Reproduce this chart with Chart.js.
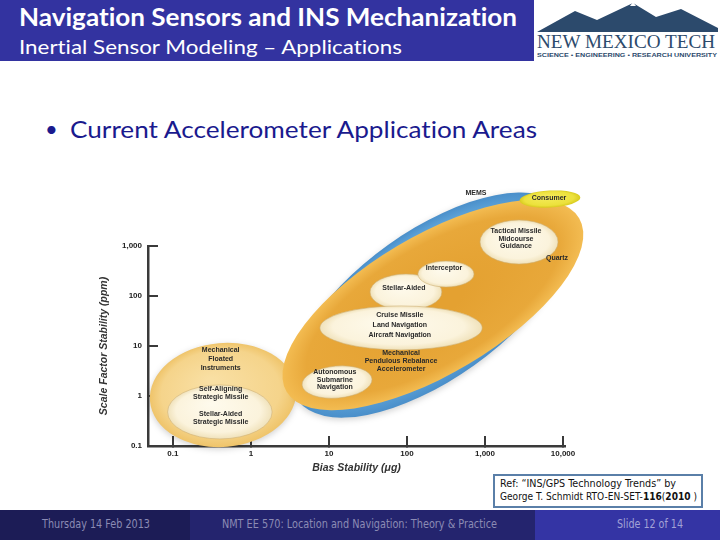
<!DOCTYPE html>
<html>
<head>
<meta charset="utf-8">
<script src="https://cdn.jsdelivr.net/npm/chart.js@4.4.1/dist/chart.umd.min.js"></script>
<style>
    body { margin: 0; width: 720px; height: 540px; position: relative; overflow: hidden; background: #fff; font-family: Lato, sans-serif; font-variant-ligatures: none; }
    .abs { position: absolute; white-space: nowrap; line-height: 1; transform-origin: 0 50%; }
    #header { position: absolute; left: 0; top: 0; width: 534px; height: 61px; background: #3333a0; }
    #logo { position: absolute; left: 535px; top: 0; width: 185px; height: 62px; background: #fff; }
    #chartBox { position: absolute; left: 90px; top: 150px; width: 530px; height: 330px; }
    #ref { position: absolute; left: 493px; top: 474px; width: 206px; height: 30px; border: 2px solid #5a7fa8; background: #fff; }
    .foot { position: absolute; top: 510px; height: 30px; }
    .footText { font-family: "Liberation Sans Narrow", "DejaVu Sans Condensed", sans-serif; font-size: 12px; top: 518px; }
</style>
</head>
<body>
<div id="header"></div>
<span class="abs" id="title" style="left:19px;top:5px;font-size:24px;font-weight:bold;color:#fff;">Navigation Sensors and INS Mechanization</span>
<span class="abs" id="subtitle" style="left:19px;top:37px;font-size:19px;color:#fff;">Inertial Sensor Modeling – Applications</span>

<div id="logo">
    <svg width="185" height="34" style="position:absolute;left:0;top:0;">
        <polygon points="2,32 40,11 62,20 98,3 121,17 146,9 183,28 183,32" fill="#2c4a6c"/>
        <polygon points="95,6 98,2 101,6" fill="#fff"/>
    </svg>
</div>
<span class="abs" id="logoName" style="left:537px;top:32px;font-family:'Liberation Serif',serif;font-size:19px;color:#2c4a6c;">NEW MEXICO TECH</span>
<span class="abs" id="logoSub" style="left:537px;top:52px;font-family:'Liberation Sans',sans-serif;font-size:6px;font-weight:bold;color:#2c4a6c;">SCIENCE • ENGINEERING • RESEARCH UNIVERSITY</span>

<span class="abs" style="left:45px;top:118px;font-size:22px;color:#1a1a8e;">•</span>
<span class="abs" id="bullet" style="left:70px;top:117px;font-size:24px;color:#1a1a8e;">Current Accelerometer Application Areas</span>

<div id="chartBox"><canvas id="chart"></canvas></div>

<div id="ref"></div>
<span class="abs" id="ref1" style="left:500px;top:479px;font-family:'Liberation Sans Narrow','DejaVu Sans Condensed',sans-serif;font-size:10px;color:#111;">Ref: “INS/GPS Technology Trends” by</span>
<span class="abs" id="ref2" style="left:500px;top:492px;font-family:'Liberation Sans Narrow','DejaVu Sans Condensed',sans-serif;font-size:10px;color:#111;">George T. Schmidt RTO-EN-SET-<b>116</b>(<b>2010</b> )</span>

<div class="foot" style="left:0;width:190px;background:#1c1c56;"></div>
<div class="foot" style="left:190px;width:345px;background:#24246e;"></div>
<div class="foot" style="left:535px;width:185px;background:#3434a4;"></div>
<span class="abs footText" id="foot1" style="left:42px;color:#8b8bb4;">Thursday 14 Feb 2013</span>
<span class="abs footText" id="foot2" style="left:222px;color:#8b8bb4;">NMT EE 570: Location and Navigation: Theory &amp; Practice</span>
<span class="abs footText" id="foot3" style="left:617px;color:#a2a2d6;">Slide 12 of 14</span>

<script>
// axis ticks
const xTicks = [0.1, 1, 10, 100, 1000, 10000];
const xTickLabels = ['0.1', '1', '10', '100', '1,000', '10,000'];
const yTicks = [0.1, 1, 10, 100, 1000];
const yTickLabels = ['0.1', '1', '10', '100', '1,000'];

// application regions: centre (bias µg, scale factor ppm), half size in decades, tilt in degrees
const regionNames = ['Mechanical Floated', 'Strategic Missile', 'MEMS', 'Quartz', 'Consumer', 'Tactical Missile',
    'Stellar-Aided', 'Interceptor', 'Cruise Missile', 'Submarine'];
const regionBias = [0.44, 0.40, 205, 215, 6800, 2730, 97, 316, 84, 12.7];
const regionScale = [1.05, 0.48, 66, 66, 8700, 1200, 120, 275, 23, 1.9];
const regionBiasDecades = [0.94, 0.67, 2.1, 2.18, 0.39, 0.5, 0.46, 0.36, 1.04, 0.45];
const regionScaleDecades = [1.04, 0.54, 1.48, 1.38, 0.17, 0.44, 0.36, 0.26, 0.44, 0.32];
const regionTilt = [-5, 0, -35.5, -30.7, -3, 0, 0, 0, 0, -5];

// text inside the regions
const labelText = [['MEMS'], ['Consumer'], ['Tactical Missile', 'Midcourse', 'Guidance'], ['Quartz'], ['Interceptor'],
    ['Stellar-Aided'], ['Cruise Missile', 'Land Navigation', 'Aircraft Navigation'],
    ['Mechanical', 'Pendulous Rebalance', 'Accelerometer'], ['Autonomous', 'Submarine', 'Navigation'],
    ['Mechanical', 'Floated', 'Instruments'], ['Self-Aligning', 'Strategic Missile'], ['Stellar-Aided', 'Strategic Missile']];
const labelBias = [767, 6610, 2497, 8375, 298, 91.5, 81, 84, 11.9, 0.41, 0.41, 0.41];
const labelScale = [11480, 9120, 1380, 575, 363, 145, 26.3, 5.0, 2.09, 5.5, 1.15, 0.363];

// styles
const labelGap = [8, 8, 7.5, 8, 8, 8, 10, 8, 7.5, 9, 7.5, 7.5];
const regionStyles = {
    'Mechanical Floated': {stops: ['#f9dfa3', '#f5d48b', '#efc46a'], shadow: true},
    'Strategic Missile': {stops: ['#fefaec', '#fbf3dc', '#f0e2bb'], edge: true},
    'MEMS': {stops: ['#76b6e4', '#62a8dc', '#4a8fca'], shadow: true},
    'Quartz': {stops: ['#e4a131', '#e8a83a', '#f3bc52'], centred: true},
    'Consumer': {stops: ['#f5ec5c', '#ece13c', '#d8cb1e']},
    'Tactical Missile': {stops: ['#fefaec', '#fbf3dc', '#f0e2bb'], edge: true},
    'Stellar-Aided': {stops: ['#fefaec', '#fbf3dc', '#f0e2bb'], edge: true},
    'Interceptor': {stops: ['#fefaec', '#fbf3dc', '#f0e2bb'], edge: true},
    'Cruise Missile': {stops: ['#fefaec', '#fbf3dc', '#f0e2bb'], edge: true},
    'Submarine': {stops: ['#fefaec', '#fbf3dc', '#f0e2bb'], edge: true}
};

// draws the ellipses through the log scales
const regionPlugin = {
    id: 'regions',
    beforeDatasetsDraw: function (chart) {
        const ctx = chart.ctx;
        const xs = chart.scales.x;
        const ys = chart.scales.y;
        regionNames.forEach(function (name, i) {
            const cx = xs.getPixelForValue(regionBias[i]);
            const cy = ys.getPixelForValue(regionScale[i]);
            const rx = xs.getPixelForValue(regionBias[i] * Math.pow(10, regionBiasDecades[i])) - cx;
            const ry = cy - ys.getPixelForValue(regionScale[i] * Math.pow(10, regionScaleDecades[i]));
            const style = regionStyles[name];
            ctx.save();
            ctx.translate(cx, cy);
            ctx.rotate(regionTilt[i] * Math.PI / 180);
            ctx.scale(1, ry / rx);
            let g;
            if (style.centred) {
                g = ctx.createRadialGradient(0, 0, rx * 0.2, 0, 0, rx);
            } else {
                g = ctx.createRadialGradient(-rx * 0.15, -rx * 0.3, rx * 0.05, 0, 0, rx);
            }
            g.addColorStop(0, style.stops[0]);
            g.addColorStop(0.8, style.stops[1]);
            g.addColorStop(1, style.stops[2]);
            if (style.shadow) {
                ctx.shadowColor = 'rgba(0,0,0,0.18)';
                ctx.shadowBlur = 6;
                ctx.shadowOffsetY = 2;
            }
            ctx.beginPath();
            ctx.arc(0, 0, rx, 0, Math.PI * 2);
            ctx.fillStyle = g;
            ctx.fill();
            ctx.restore();
            if (style.edge) {
                ctx.save();
                ctx.beginPath();
                ctx.ellipse(cx, cy, rx, ry, regionTilt[i] * Math.PI / 180, 0, Math.PI * 2);
                ctx.strokeStyle = 'rgba(205,175,115,0.7)';
                ctx.lineWidth = 0.8;
                ctx.stroke();
                ctx.restore();
            }
        });
    },
    afterDatasetsDraw: function (chart) {
        const ctx = chart.ctx;
        const xs = chart.scales.x;
        const ys = chart.scales.y;
        ctx.save();
        ctx.font = 'bold 7px "Liberation Sans", Arial, sans-serif';
        ctx.fillStyle = '#2a2a2a';
        ctx.textAlign = 'center';
        ctx.textBaseline = 'middle';
        labelText.forEach(function (lines, i) {
            const px = xs.getPixelForValue(labelBias[i]);
            const py = ys.getPixelForValue(labelScale[i]);
            const top = py - (lines.length - 1) * labelGap[i] / 2;
            lines.forEach(function (line, k) {
                ctx.fillText(line, px, top + k * labelGap[i]);
            });
        });
        ctx.restore();
    }
};

const axisFont = {family: '"Liberation Sans", Arial, sans-serif', size: 8, weight: 'bold'};
const titleFont = {family: '"Liberation Sans", Arial, sans-serif', size: 10.5, weight: 'bold', style: 'italic'};

const config = {
    type: 'scatter',
    data: {
        datasets: [{
            data: regionBias.map(function (b, i) { return {x: b, y: regionScale[i]}; }),
            pointRadius: 0
        }]
    },
    options: {
        responsive: true,
        maintainAspectRatio: false,
        animation: false,
        layout: {padding: {top: 96, right: 55, left: 0, bottom: 0}},
        plugins: {legend: {display: false}, tooltip: {enabled: false}},
        scales: {
            x: {
                type: 'logarithmic', min: 0.048, max: 10600, z: 1,
                afterBuildTicks: function (scale) { scale.ticks = xTicks.map(function (v) { return {value: v}; }); },
                afterFit: function (scale) { scale.height = 34; },
                ticks: {
                    callback: function (value, index) { return xTickLabels[index]; },
                    font: axisFont, color: '#222', padding: 13, maxRotation: 0, autoSkip: false
                },
                grid: {drawOnChartArea: false, tickLength: -10, color: '#3a3a3a', lineWidth: 2},
                border: {color: '#3a3a3a', width: 2.5},
                title: {display: true, text: 'Bias Stability (μg)', font: titleFont, color: '#333', padding: {top: 0, bottom: 6}}
            },
            y: {
                type: 'logarithmic', min: 0.1, max: 1000, z: 1,
                afterBuildTicks: function (scale) { scale.ticks = yTicks.map(function (v) { return {value: v}; }); },
                afterFit: function (scale) { scale.width = 58; },
                ticks: {
                    callback: function (value, index) { return yTickLabels[index]; },
                    font: axisFont, color: '#222', padding: 16, autoSkip: false
                },
                grid: {drawOnChartArea: false, tickLength: -10, color: '#3a3a3a', lineWidth: 2},
                border: {color: '#3a3a3a', width: 2.5},
                title: {display: true, text: 'Scale Factor Stability (ppm)', font: titleFont, color: '#333', padding: {top: 8, bottom: 0}}
            }
        }
    },
    plugins: [regionPlugin]
};

let chart = new Chart(document.getElementById('chart'), config);

// stretch slide texts to the widths of the original
function fitWidth(id, width) {
    const el = document.getElementById(id);
    const w = el.getBoundingClientRect().width;
    el.style.transform = 'scaleX(' + (width / w) + ')';
}
fitWidth('title', 498);
fitWidth('subtitle', 383);
fitWidth('bullet', 467);
fitWidth('logoName', 178);
fitWidth('logoSub', 180);
fitWidth('ref1', 176);
fitWidth('ref2', 197);
fitWidth('foot1', 108);
fitWidth('foot2', 275);
fitWidth('foot3', 66);
</script>
</body>
</html>
